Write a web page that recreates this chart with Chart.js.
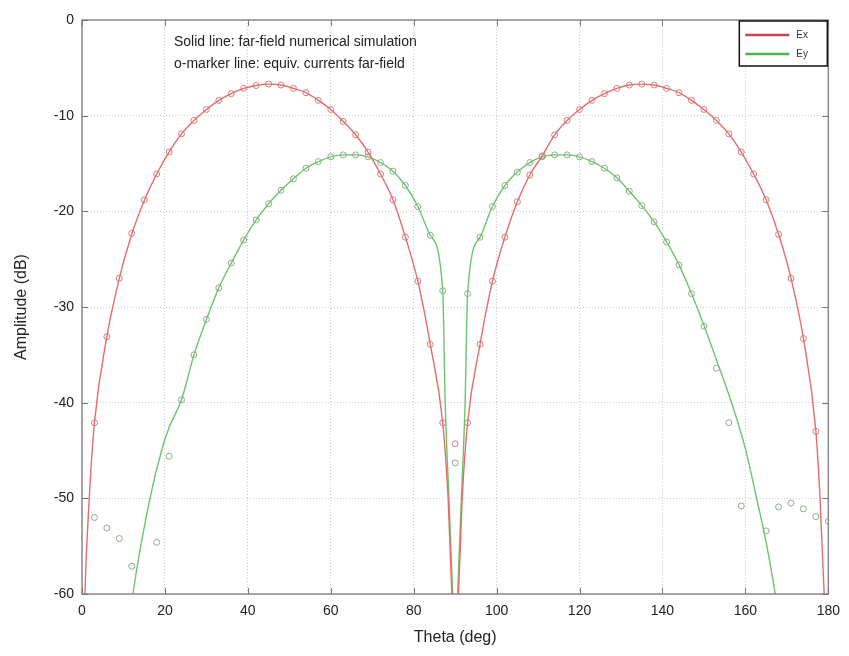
<!DOCTYPE html>
<html>
<head>
<meta charset="utf-8">
<script src="https://cdn.jsdelivr.net/npm/chart.js@4/dist/chart.umd.min.js"></script>
<style>
  html, body { margin: 0; padding: 0; background: #fff; }
  #wrap { width: 849px; height: 656px; }
</style>
</head>
<body>
<div id="wrap"><canvas id="chart" width="849" height="656"></canvas></div>
<script>
// solid lines (far-field numerical simulation)
var exLineTheta = [0.4, 0.7, 1.75,
    3, 6, 9, 12, 15, 18, 21, 24, 27, 30, 33, 36, 39, 42, 45, 48, 51, 54, 57, 60, 63, 66, 69, 72, 75, 78, 81, 84, 87,
    88.3, 89.2, 89.6, 90.4, 90.8, 91.7,
    93, 96, 99, 102, 105, 108, 111, 114, 117, 120, 123, 126, 129, 132, 135, 138, 141, 144, 147, 150, 153, 156, 159, 162, 165, 168, 171, 174, 177,
    178, 179, 179.5];
var exLineDb = [-66, -60, -50,
    -42.1, -33.1, -27, -22.4, -18.9, -16.1, -13.8, -11.9, -10.5, -9.35, -8.4, -7.7, -7.15, -6.85, -6.7, -6.8, -7.15, -7.6, -8.4, -9.35, -10.6, -12, -13.8, -16.1, -18.8, -22.7, -27.3, -33.9, -42.1,
    -50, -60, -66, -66, -60, -50,
    -42.1, -33.9, -27.3, -22.7, -19, -16.2, -14.2, -12, -10.5, -9.35, -8.4, -7.7, -7.15, -6.8, -6.7, -6.8, -7.15, -7.6, -8.4, -9.35, -10.5, -11.9, -13.8, -16.1, -18.8, -22.4, -27, -33.3, -43,
    -50, -60, -66];

var eyLineTheta = [11.5, 12.3, 16.4, 19.2, 21,
    24, 27, 30, 33, 36, 39, 42, 45, 48, 51, 54, 57, 60, 63, 66, 69, 72, 75, 78, 81, 84, 87,
    87.6, 88.5, 89.4, 89.8, 90.2, 90.6, 91.5, 92.4,
    93, 96, 99, 102, 105, 108, 111, 114, 117, 120, 123, 126, 129, 132, 135, 138, 141, 144, 147, 150, 153,
    156.5, 160, 162.6, 165, 167.2, 168];
var eyLineDb = [-63, -60, -50, -45, -42.6,
    -39.7, -35, -31.3, -28, -25.4, -23, -20.9, -19.2, -17.8, -16.6, -15.5, -14.8, -14.3, -14.1, -14.1, -14.3, -14.9, -15.8, -17.3, -19.5, -22.5, -28.3,
    -40, -50, -60, -66, -66, -60, -50, -40,
    -28.6, -22.7, -19.5, -17.3, -15.9, -14.9, -14.3, -14.1, -14.1, -14.3, -14.8, -15.5, -16.5, -17.9, -19.4, -21.1, -23.2, -25.6, -28.6, -31.9, -35.5,
    -39.8, -44.8, -49.8, -54.6, -60, -62.5];

// o-markers (equivalent currents far-field)
var markTheta = [3, 6, 9, 12, 15, 18, 21, 24, 27, 30, 33, 36, 39, 42, 45, 48, 51, 54, 57, 60,
    63, 66, 69, 72, 75, 78, 81, 84, 87, 90, 93, 96, 99, 102, 105, 108, 111, 114, 117, 120,
    123, 126, 129, 132, 135, 138, 141, 144, 147, 150, 153, 156, 159, 162, 165, 168, 171, 174, 177, 180];
var exMarkDb = [-42.1, -33.1, -27, -22.3, -18.8, -16.1, -13.8, -11.9, -10.5, -9.35, -8.4, -7.7, -7.15, -6.85, -6.7, -6.8, -7.15, -7.6, -8.4, -9.35,
    -10.6, -12, -13.8, -16.1, -18.8, -22.7, -27.3, -33.9, -42.1, -44.3, -42.1, -33.9, -27.3, -22.7, -19, -16.2, -14.2, -12, -10.5, -9.35,
    -8.4, -7.7, -7.15, -6.8, -6.7, -6.8, -7.15, -7.6, -8.4, -9.35, -10.5, -11.9, -13.8, -16.1, -18.8, -22.4, -27, -33.3, -43, null];
var eyMarkDb = [-52, -53.1, -54.2, -57.1, null, -54.6, -45.6, -39.7, -35, -31.3, -28, -25.4, -23, -20.9, -19.2, -17.8, -16.6, -15.5, -14.8, -14.3,
    -14.1, -14.1, -14.3, -14.9, -15.8, -17.3, -19.5, -22.5, -28.3, -46.3, -28.6, -22.7, -19.5, -17.3, -15.9, -14.9, -14.3, -14.1, -14.1, -14.3,
    -14.8, -15.5, -16.5, -17.9, -19.4, -21.1, -23.2, -25.6, -28.6, -32, -36.4, -42.1, -50.8, null, -53.4, -50.9, -50.5, -51.1, -51.9, -52.4];

var xTicks = [0, 20, 40, 60, 80, 100, 120, 140, 160, 180];
var yTicks = [-60, -50, -40, -30, -20, -10, 0];
var seriesNames = ['Ex', 'Ey'];
var noteLines = ['Solid line: far-field numerical simulation', 'o-marker line: equiv. currents far-field'];

function pairs(xs, ys) {
    var out = [];
    for (var i = 0; i < xs.length; i++) {
        if (ys[i] !== null) out.push({ x: xs[i], y: ys[i] });
    }
    return out;
}

var FONT = "'Liberation Sans', Arial, sans-serif";

// box, inward ticks, note text and legend drawn on top
var boxPlugin = {
    id: 'matlabBox',
    afterDraw: function (chart) {
        var ctx = chart.ctx, a = chart.chartArea;
        var xs = chart.scales.x, ys = chart.scales.y;
        ctx.save();
        ctx.strokeStyle = '#8a8a8a';
        ctx.lineWidth = 1.5;
        ctx.strokeRect(a.left, a.top, a.right - a.left, a.bottom - a.top);

        ctx.strokeStyle = '#777';
        ctx.lineWidth = 1;
        ctx.beginPath();
        xTicks.forEach(function (t) {
            var px = Math.round(xs.getPixelForValue(t)) + 0.5;
            ctx.moveTo(px, a.bottom); ctx.lineTo(px, a.bottom - 6);
            ctx.moveTo(px, a.top); ctx.lineTo(px, a.top + 6);
        });
        yTicks.forEach(function (t) {
            var py = Math.round(ys.getPixelForValue(t)) + 0.5;
            ctx.moveTo(a.left, py); ctx.lineTo(a.left + 6, py);
            ctx.moveTo(a.right, py); ctx.lineTo(a.right - 6, py);
        });
        ctx.stroke();

        // note
        ctx.fillStyle = '#222';
        ctx.font = '14px ' + FONT;
        ctx.textBaseline = 'middle';
        ctx.textAlign = 'left';
        ctx.fillText(noteLines[0], 174, 42);
        ctx.fillText(noteLines[1], 174, 64);

        // legend
        var lx = a.right - 89, ly = a.top + 1, lw = 88, lh = 45;
        ctx.fillStyle = '#fff';
        ctx.fillRect(lx, ly, lw, lh);
        ctx.strokeStyle = '#111';
        ctx.lineWidth = 1.5;
        ctx.strokeRect(lx, ly, lw, lh);
        ctx.font = '10px ' + FONT;
        for (var i = 0; i < 2; i++) {
            var yy = ly + 14 + i * 19;
            ctx.strokeStyle = i === 0 ? '#c8454e' : '#4fb34f';
            ctx.lineWidth = 2.5;
            ctx.beginPath();
            ctx.moveTo(lx + 6, yy); ctx.lineTo(lx + 50, yy);
            ctx.stroke();
            ctx.fillStyle = '#333';
            ctx.fillText(seriesNames[i], lx + 57, yy);
        }
        ctx.restore();
    }
};

new Chart(document.getElementById('chart'), {
    type: 'scatter',
    data: {
        datasets: [
            {
                label: seriesNames[0],
                data: pairs(exLineTheta, exLineDb),
                showLine: true,
                borderColor: '#e86b6b',
                borderWidth: 1.4,
                pointRadius: 0,
                cubicInterpolationMode: 'monotone'
            },
            {
                label: seriesNames[1],
                data: pairs(eyLineTheta, eyLineDb),
                showLine: true,
                borderColor: '#6cc46c',
                borderWidth: 1.4,
                pointRadius: 0,
                cubicInterpolationMode: 'monotone'
            },
            {
                label: seriesNames[0] + ' markers',
                data: pairs(markTheta, exMarkDb),
                showLine: false,
                pointStyle: 'circle',
                pointRadius: 3,
                pointBorderWidth: 1,
                pointBorderColor: '#c98080',
                pointBackgroundColor: 'rgba(0,0,0,0)'
            },
            {
                label: seriesNames[1] + ' markers',
                data: pairs(markTheta, eyMarkDb),
                showLine: false,
                pointStyle: 'circle',
                pointRadius: 3,
                pointBorderWidth: 1,
                pointBorderColor: '#8fa88f',
                pointBackgroundColor: 'rgba(0,0,0,0)'
            }
        ]
    },
    options: {
        responsive: false,
        animation: false,
        layout: { padding: { left: 0, top: 20, right: 20, bottom: 0 } },
        plugins: {
            legend: { display: false },
            tooltip: { enabled: false }
        },
        scales: {
            x: {
                type: 'linear',
                min: 0,
                max: 180,
                afterBuildTicks: function (s) { s.ticks = xTicks.map(function (v) { return { value: v }; }); },
                afterFit: function (s) { s.height = 62; },
                grid: { color: 'rgba(0,0,0,0.2)', drawTicks: false, lineWidth: 1 },
                border: { display: false, dash: [1, 2] },
                ticks: { color: '#222', font: { family: FONT, size: 14 }, padding: 9, maxRotation: 0 },
                title: { display: true, text: 'Theta (deg)', color: '#222', font: { family: FONT, size: 16 }, padding: { top: 0, bottom: 9 } }
            },
            y: {
                type: 'linear',
                min: -60,
                max: 0,
                afterBuildTicks: function (s) { s.ticks = yTicks.map(function (v) { return { value: v }; }); },
                afterFit: function (s) { s.width = 82; },
                grid: { color: 'rgba(0,0,0,0.2)', drawTicks: false, lineWidth: 1 },
                border: { display: false, dash: [1, 2] },
                ticks: { color: '#222', font: { family: FONT, size: 14 }, padding: 8 },
                title: { display: true, text: 'Amplitude (dB)', color: '#222', font: { family: FONT, size: 16 }, padding: { top: 12, bottom: 0 } }
            }
        }
    },
    plugins: [boxPlugin]
});
</script>
</body>
</html>
